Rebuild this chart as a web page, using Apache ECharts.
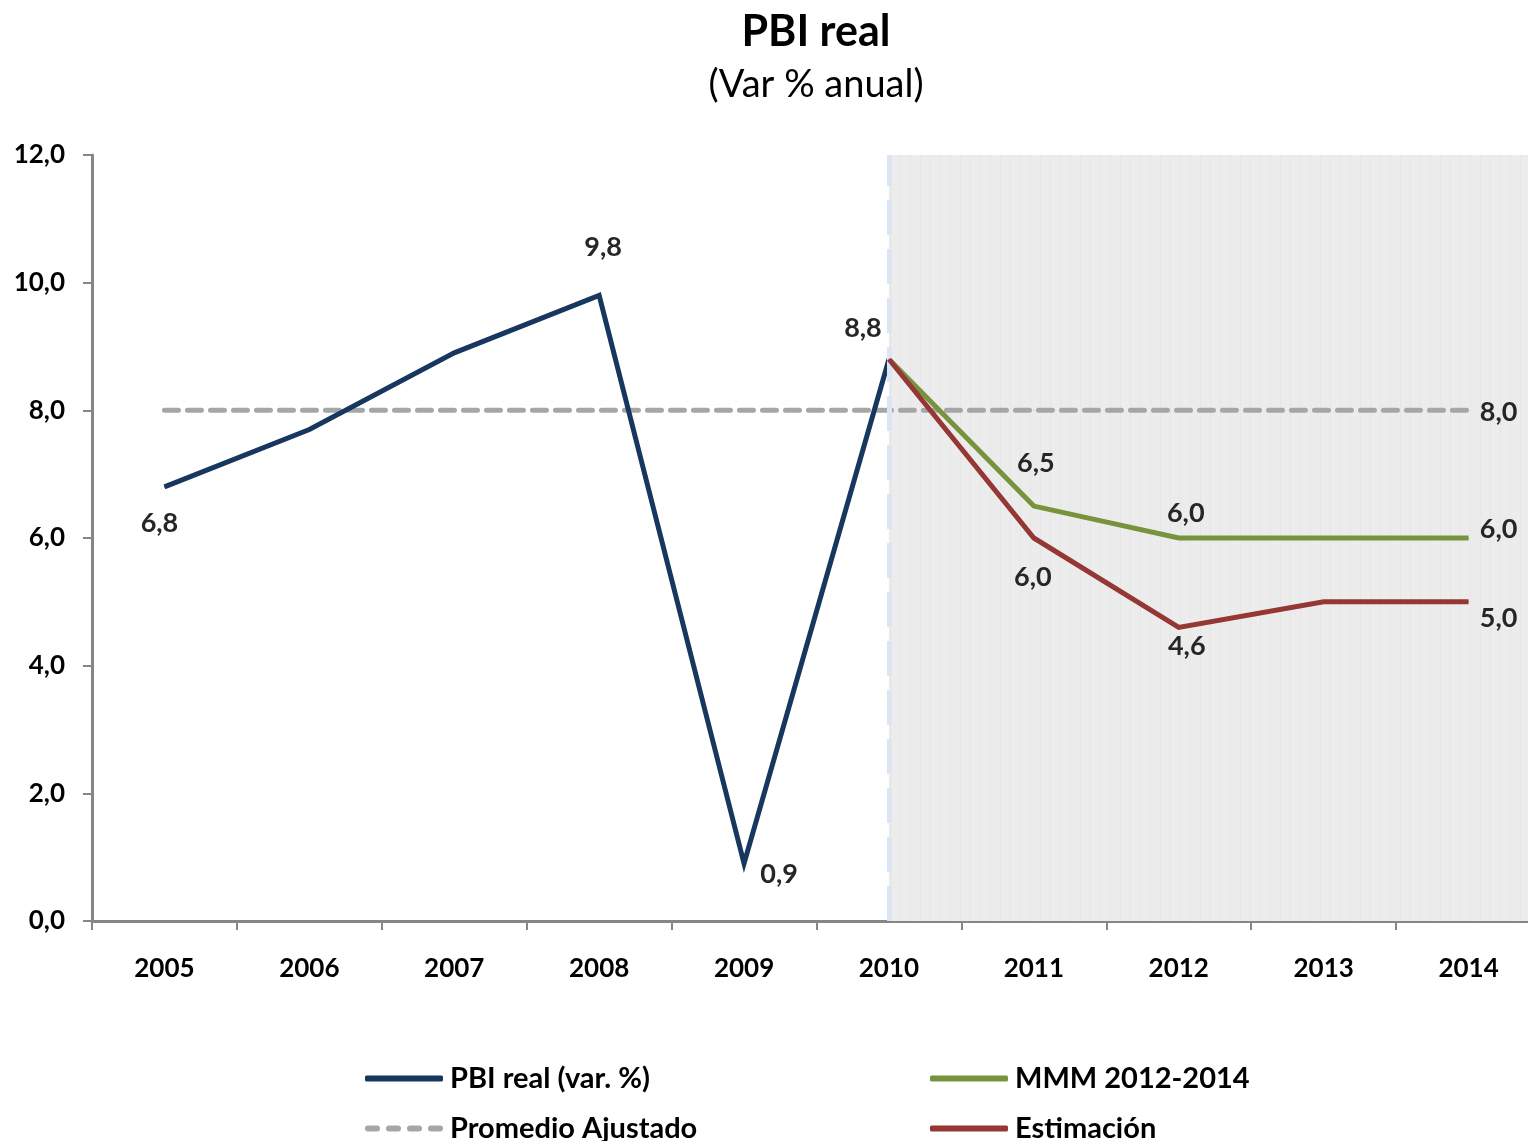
<!DOCTYPE html>
<html>
<head>
<meta charset="utf-8">
<title>PBI real</title>
<script src="https://cdn.jsdelivr.net/npm/echarts@6/dist/echarts.min.js"></script>
<style>
  html, body { margin: 0; padding: 0; background: #ffffff; overflow: hidden; }
  /* the plot runs slightly past the right edge of the page */
  #chart { width: 1545px; height: 1141px; }
</style>
</head>
<body>
<div id="chart"></div>
<script>
// Years on the horizontal axis
const years = ['2005', '2006', '2007', '2008', '2009', '2010', '2011', '2012', '2013', '2014'];

// Real GDP growth, % per year (observed)
const pbiReal = [6.8, 7.7, 8.9, 9.8, 0.9, 8.8, null, null, null, null];
// Multi-year macro framework projection
const mmm = [null, null, null, null, null, 8.8, 6.5, 6.0, 6.0, 6.0];
// Own estimate
const estimacion = [null, null, null, null, null, 8.8, 6.0, 4.6, 5.0, 5.0];
// Adjusted average
const promedio = [8.0, 8.0, 8.0, 8.0, 8.0, 8.0, 8.0, 8.0, 8.0, 8.0];

// Y axis ticks
const yMin = 0, yMax = 12, yStep = 2;

// First projected year: shading starts here
const projectionStart = '2010';

// Which points carry a value label, and where the label sits relative to the point
const labelOffsets = {
  pbi:  { '2005': [-5, 36], '2008': [4, -48], '2009': [35, 11], '2010': [-26, -31] },
  mmm:  { '2011': [2, -43], '2012': [7, -25], '2014': [30, -9] },
  est:  { '2011': [-1, 39], '2012': [8, 19], '2014': [30, 16] },
  prom: { '2014': [30, 2] }
};

const FONT = 'Lato, "Open Sans", "Liberation Sans", sans-serif';
const fmt = v => v.toFixed(1).replace('.', ',');

// legend glyphs: a solid rounded bar, and four dashes for the dashed series
const ICON_SOLID = 'roundRect';
const ICON_DASHED = 'path://M3,0h9a3,3 0 0 1 0,6h-9a3,3 0 0 1 0,-6z' +
  'M24,0h9a3,3 0 0 1 0,6h-9a3,3 0 0 1 0,-6z' +
  'M45,0h9a3,3 0 0 1 0,6h-9a3,3 0 0 1 0,-6z' +
  'M66,0h9a3,3 0 0 1 0,6h-9a3,3 0 0 1 0,-6z';

// light grey fill with faint vertical hatching for the projection band
function hatchPattern() {
  const c = document.createElement('canvas');
  c.width = 10; c.height = 10;
  const g = c.getContext('2d');
  g.fillStyle = '#ececec';
  g.fillRect(0, 0, 10, 10);
  g.fillStyle = '#e6e6e6';
  g.fillRect(0, 0, 1, 10);
  return { image: c, repeat: 'repeat' };
}

function withLabels(values, offsets) {
  return values.map((v, i) => {
    const off = offsets[years[i]];
    if (v == null || !off) return v;
    return {
      value: v,
      label: {
        show: true,
        position: 'inside',
        offset: off,
        formatter: p => fmt(p.value),
        color: '#262626',
        fontFamily: FONT,
        fontWeight: 'bold',
        fontSize: 27
      }
    };
  });
}

const shadeFrom = years.indexOf(projectionStart) + 0.5;

const chart = echarts.init(document.getElementById('chart'), null, { renderer: 'canvas' });

const lineSeries = (name, values, offsets, color, z, dashed) => ({
  name,
  type: 'line',
  data: withLabels(values, offsets),
  symbol: 'circle',
  symbolSize: 1,
  showSymbol: true,
  itemStyle: { color },
  connectNulls: false,
  z,
  lineStyle: {
    color,
    width: 5,
    type: dashed ? [14, 9] : 'solid',
    cap: dashed ? 'round' : 'butt',
    join: 'miter'
  },
  emphasis: { disabled: true },
  animation: false
});

const legendBase = {
  orient: 'vertical',
  top: 1064,
  height: 120,
  padding: 0,
  itemWidth: 78,
  itemHeight: 6,
  itemGap: 21,
  textStyle: { fontFamily: FONT, fontWeight: 'bold', fontSize: 29, color: '#000000', padding: [0, 0, 0, 2] },
  selectedMode: false
};

chart.setOption({
  backgroundColor: '#ffffff',
  animation: false,
  title: {
    text: 'PBI real',
    subtext: '(Var % anual)',
    left: 811,
    top: 6,
    textAlign: 'center',
    itemGap: 12,
    textStyle: { fontFamily: FONT, fontWeight: 'bold', fontSize: 43, color: '#000000' },
    subtextStyle: { fontFamily: FONT, fontWeight: 'normal', fontSize: 38, color: '#000000' }
  },
  grid: { left: 92, right: 4, top: 155, bottom: 220, containLabel: false },
  xAxis: [
    {
      type: 'category',
      data: years,
      boundaryGap: true,
      axisLine: { lineStyle: { color: '#868686', width: 3 } },
      axisTick: { show: true, length: 9, lineStyle: { color: '#868686', width: 2 } },
      axisLabel: { margin: 35, color: '#000000', fontFamily: FONT, fontWeight: 'bold', fontSize: 26 },
      splitLine: { show: false }
    },
    {
      // hidden linear axis spanning the same bands, used for the projection shading
      type: 'value',
      min: 0,
      max: years.length,
      show: false
    }
  ],
  yAxis: {
    type: 'value',
    min: yMin,
    max: yMax,
    interval: yStep,
    axisLine: { show: true, lineStyle: { color: '#868686', width: 3 } },
    axisTick: { show: true, length: 9, lineStyle: { color: '#868686', width: 2 } },
    axisLabel: {
      margin: 27,
      formatter: v => fmt(v),
      color: '#000000',
      fontFamily: FONT,
      fontWeight: 'bold',
      fontSize: 26
    },
    splitLine: { show: false }
  },
  legend: [
    Object.assign({}, legendBase, {
      left: 365,
      data: [
        { name: 'PBI real (var. %)', icon: ICON_SOLID },
        { name: 'Promedio Ajustado', icon: ICON_DASHED }
      ]
    }),
    Object.assign({}, legendBase, {
      left: 930,
      data: [
        { name: 'MMM 2012-2014', icon: ICON_SOLID },
        { name: 'Estimación', icon: ICON_SOLID }
      ]
    })
  ],
  series: [
    {
      name: 'proyeccion',
      type: 'line',
      xAxisIndex: 1,
      data: [],
      silent: true,
      z: 1,
      markArea: {
        silent: true,
        itemStyle: { color: hatchPattern() },
        data: [[{ xAxis: shadeFrom }, { xAxis: years.length }]]
      },
      markLine: {
        silent: true,
        symbol: ['none', 'none'],
        label: { show: false },
        lineStyle: { color: '#dce6f2', width: 5, type: [35, 14] },
        data: [{ xAxis: shadeFrom }]
      }
    },
    lineSeries('Promedio Ajustado', promedio, labelOffsets.prom, '#a6a6a6', 2, true),
    lineSeries('PBI real (var. %)', pbiReal, labelOffsets.pbi, '#17375e', 3, false),
    lineSeries('MMM 2012-2014', mmm, labelOffsets.mmm, '#77933c', 4, false),
    lineSeries('Estimación', estimacion, labelOffsets.est, '#953735', 5, false)
  ]
});
</script>
</body>
</html>
